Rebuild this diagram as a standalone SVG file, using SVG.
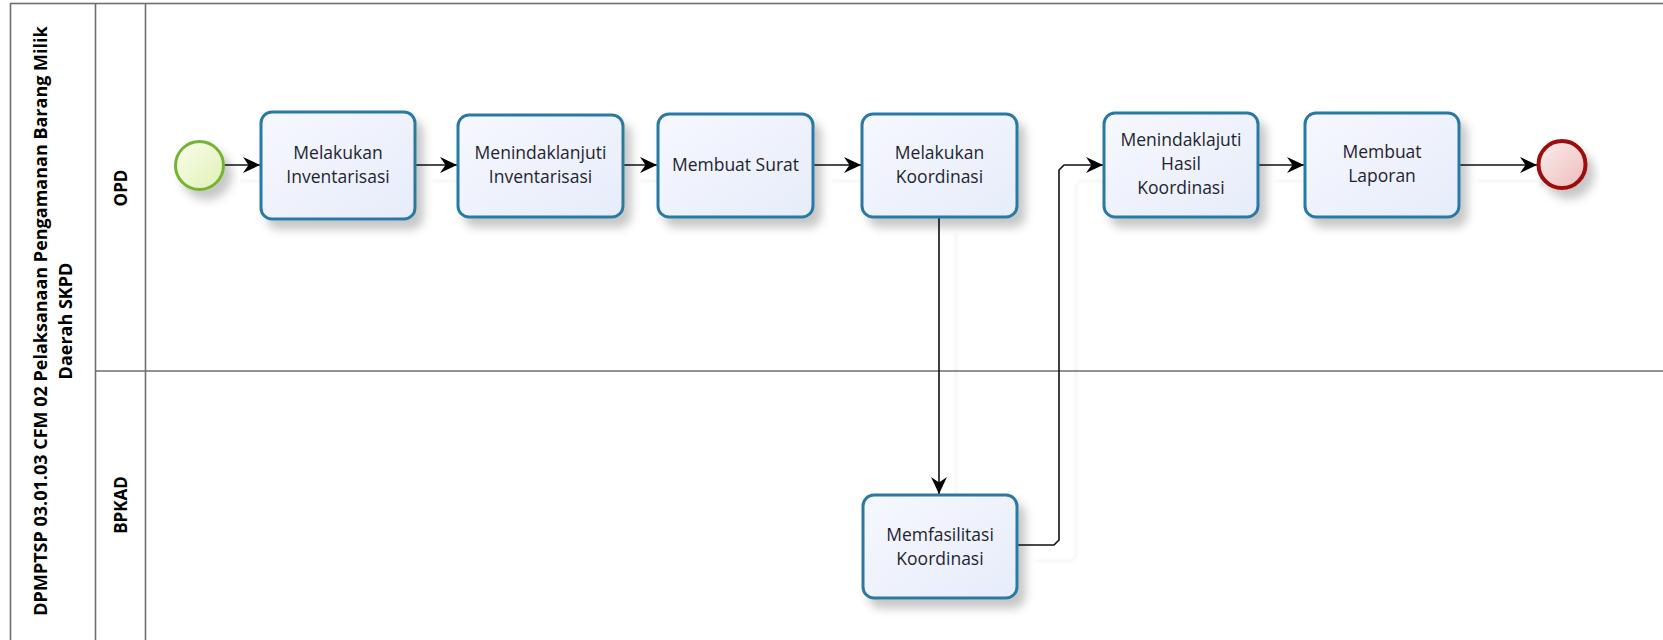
<svg xmlns="http://www.w3.org/2000/svg" width="1663" height="640" viewBox="0 0 1663 640">
  <defs>
    <linearGradient id="taskFill" x1="0" y1="0" x2="1" y2="1">
      <stop offset="0" stop-color="#f7f8fe"/>
      <stop offset="1" stop-color="#e6ecfa"/>
    </linearGradient>
    <linearGradient id="startFill" x1="0" y1="0" x2="1" y2="1">
      <stop offset="0" stop-color="#fbfdee"/>
      <stop offset="1" stop-color="#dff0b4"/>
    </linearGradient>
    <linearGradient id="endFill" x1="0" y1="0" x2="1" y2="1">
      <stop offset="0" stop-color="#fbeded"/>
      <stop offset="1" stop-color="#eebcbc"/>
    </linearGradient>
    <filter id="shadow" x="-20%" y="-20%" width="150%" height="160%">
      <feDropShadow dx="7" dy="9" stdDeviation="5" flood-color="#000" flood-opacity="0.22"/>
    </filter>
    <filter id="lineShadow" x="-10%" y="-10%" width="130%" height="130%">
      <feDropShadow dx="17" dy="16" stdDeviation="0.8" flood-color="#000" flood-opacity="0.06"/>
    </filter>
    <marker id="arrow" markerWidth="18" markerHeight="18" refX="17" refY="8" orient="auto" markerUnits="userSpaceOnUse">
      <path d="M0,0 L17,8 L0,16 L5.5,8 Z" fill="#000"/>
    </marker>
  </defs>
  <style>
    .pool { fill: #fff; stroke: #6e6e6e; stroke-width: 1.6; }
    .lane { stroke: #6e6e6e; stroke-width: 1.6; fill: none; }
    .title { font-family: "Open Sans", "Noto Sans", sans-serif; font-weight: bold; font-size: 18px; fill: #000; text-anchor: middle; }
    .laneLabel { font-family: "Open Sans", "Noto Sans", sans-serif; font-weight: bold; font-size: 17px; fill: #000; text-anchor: middle; }
    .task rect { fill: url(#taskFill); stroke: #2a78a4; stroke-width: 3; filter: url(#shadow); }
    .task text { font-family: "Open Sans", "Noto Sans", sans-serif; font-size: 17.5px; fill: #231f33; text-anchor: middle; }
    .conn { fill: none; stroke: #111; stroke-width: 1.6; marker-end: url(#arrow); }
  </style>

  <g id="pool">
    <rect class="pool" x="10.5" y="3.5" width="1670" height="638"/>
    <line class="lane" x1="95.5" y1="3.5" x2="95.5" y2="641"/>
    <line class="lane" x1="145.5" y1="3.5" x2="145.5" y2="641"/>
    <line class="lane" x1="95.5" y1="371" x2="1680" y2="371"/>
    <text class="title" transform="translate(47,321) rotate(-90)">DPMPTSP 03.01.03 CFM 02 Pelaksanaan Pengamanan Barang Milik</text>
    <text class="title" transform="translate(72,321) rotate(-90)">Daerah SKPD</text>
  </g>
  <g id="lane-opd">
    <text class="laneLabel" transform="translate(127,188) rotate(-90)">OPD</text>
  </g>
  <g id="lane-bpkad">
    <text class="laneLabel" transform="translate(127,505) rotate(-90)">BPKAD</text>
  </g>

  <g id="connectors">
    <g filter="url(#lineShadow)">
      <path class="conn" d="M223,165 H260"/>
      <path class="conn" d="M416,165 H457"/>
      <path class="conn" d="M624,165 H657"/>
      <path class="conn" d="M814,165 H861"/>
      <path class="conn" d="M939,218 V494"/>
      <path class="conn" d="M1018,545 H1054 L1059,540 V170 L1064,165 H1103"/>
      <path class="conn" d="M1259,165 H1304"/>
      <path class="conn" d="M1460,165 H1537"/>
    </g>
  </g>

  <g id="start">
    <circle cx="199.5" cy="165.5" r="24" fill="url(#startFill)" stroke="#74b333" stroke-width="3" filter="url(#shadow)"/>
  </g>

  <g id="t1" class="task">
    <rect x="261" y="112" width="154" height="107" rx="11"/>
    <text x="338" y="159">Melakukan</text>
    <text x="338" y="183">Inventarisasi</text>
  </g>
  <g id="t2" class="task">
    <rect x="458" y="115" width="165" height="102" rx="11"/>
    <text x="540.5" y="159">Menindaklanjuti</text>
    <text x="540.5" y="183">Inventarisasi</text>
  </g>
  <g id="t3" class="task">
    <rect x="658" y="114" width="155" height="103" rx="11"/>
    <text x="735.5" y="171">Membuat Surat</text>
  </g>
  <g id="t4" class="task">
    <rect x="862" y="114" width="155" height="103" rx="11"/>
    <text x="939.5" y="159">Melakukan</text>
    <text x="939.5" y="183">Koordinasi</text>
  </g>
  <g id="t5" class="task">
    <rect x="1104" y="113" width="154" height="104" rx="11"/>
    <text x="1181" y="146">Menindaklajuti</text>
    <text x="1181" y="170">Hasil</text>
    <text x="1181" y="194">Koordinasi</text>
  </g>
  <g id="t6" class="task">
    <rect x="1305" y="113" width="154" height="104" rx="11"/>
    <text x="1382" y="158">Membuat</text>
    <text x="1382" y="182">Laporan</text>
  </g>
  <g id="t7" class="task">
    <rect x="863" y="495" width="154" height="103" rx="11"/>
    <text x="940" y="541">Memfasilitasi</text>
    <text x="940" y="565">Koordinasi</text>
  </g>

  <g id="end">
    <circle cx="1562" cy="164.5" r="23.5" fill="url(#endFill)" stroke="#9c0d0d" stroke-width="4" filter="url(#shadow)"/>
  </g>
</svg>
